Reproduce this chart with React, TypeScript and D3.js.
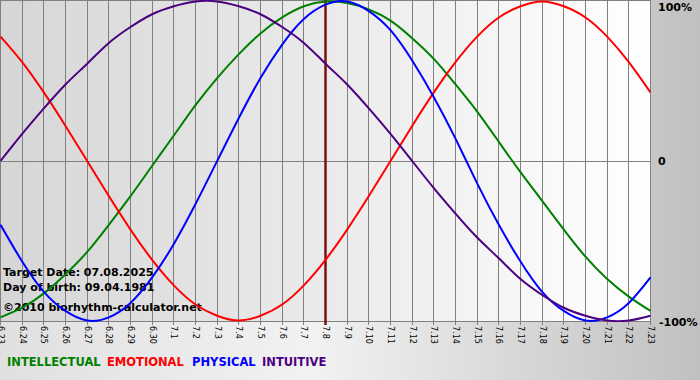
import React from "react";
import * as d3 from "d3";

const days = [
  "6.23", "6.24", "6.25", "6.26", "6.27", "6.28", "6.29", "6.30",
  "7.1", "7.2", "7.3", "7.4", "7.5", "7.6", "7.7", "7.8", "7.9", "7.10",
  "7.11", "7.12", "7.13", "7.14", "7.15", "7.16", "7.17", "7.18", "7.19",
  "7.20", "7.21", "7.22", "7.23",
];

const intellectual = [
  -0.98, -0.92, -0.83, -0.71, -0.57, -0.4, -0.22, -0.03, 0.16, 0.35, 0.52,
  0.67, 0.8, 0.9, 0.97, 1.0, 0.99, 0.95, 0.88, 0.77, 0.64, 0.48, 0.31, 0.12,
  -0.07, -0.25, -0.43, -0.6, -0.74, -0.85, -0.94,
];
const emotional = [
  0.78, 0.62, 0.43, 0.22, 0.0, -0.22, -0.43, -0.62, -0.78, -0.9, -0.97, -1.0,
  -0.97, -0.9, -0.78, -0.62, -0.43, -0.22, 0.0, 0.22, 0.43, 0.62, 0.78, 0.9,
  0.97, 1.0, 0.97, 0.9, 0.78, 0.62, 0.43,
];
const physical = [
  -0.4, -0.63, -0.82, -0.94, -1.0, -0.98, -0.89, -0.73, -0.52, -0.27, 0.0,
  0.27, 0.52, 0.73, 0.89, 0.98, 1.0, 0.94, 0.82, 0.63, 0.4, 0.14, -0.14, -0.4,
  -0.63, -0.82, -0.94, -1.0, -0.98, -0.89, -0.73,
];
const intuitive = [
  0.0, 0.17, 0.33, 0.48, 0.61, 0.74, 0.84, 0.92, 0.97, 1.0, 1.0, 0.97, 0.92,
  0.84, 0.74, 0.61, 0.48, 0.33, 0.17, 0.0, -0.17, -0.33, -0.48, -0.61, -0.74,
  -0.84, -0.92, -0.97, -1.0, -1.0, -0.97,
];

const targetIndex = 15;
const yTicks = [
  { v: 1, label: "100%" },
  { v: 0, label: "0" },
  { v: -1, label: "-100%" },
];
const series = [
  { name: "INTELLECTUAL", values: intellectual, color: "#008000" },
  { name: "EMOTIONAL", values: emotional, color: "#ff0000" },
  { name: "PHYSICAL", values: physical, color: "#0000ff" },
  { name: "INTUITIVE", values: intuitive, color: "#4b0082" },
];
const infoLines = [
  "Target Date: 07.08.2025",
  "Day of birth: 09.04.1981",
  "\u00a92010 biorhythm-calculator.net",
];

export default function App() {
  const W = 700;
  const H = 380;
  const plotRight = 650.5;
  const x = d3.scaleLinear().domain([0, days.length - 1]).range([0.5, plotRight]);
  const y = d3.scaleLinear().domain([-1, 1]).range([320.5, 1.5]);
  const axisY = 321;
  const line = d3
    .line<number>()
    .x((_, i) => x(i))
    .y((d) => y(d))
    .curve(d3.curveNatural);
  const font = "DejaVu Sans, Verdana, sans-serif";
  const legendX = [7, 107, 192, 262];

  return (
    <svg
      width={W}
      height={H}
      style={{ position: "fixed", left: 0, top: 0, display: "block" }}
      fontFamily={font}
    >
      <defs>
        <linearGradient id="outerBg" x1="0" x2="1" y1="0" y2="0">
          <stop offset="0" stopColor="#e0e0e0" />
          <stop offset="0.45" stopColor="#f2f2f2" />
          <stop offset="1" stopColor="#c0c0c0" />
        </linearGradient>
        <linearGradient id="plotBg" x1="0" x2="1" y1="0" y2="0">
          <stop offset="0" stopColor="#d6d6d6" />
          <stop offset="1" stopColor="#ffffff" />
        </linearGradient>
        <clipPath id="plotClip">
          <rect x={0} y={0} width={plotRight + 1} height={axisY + 1} />
        </clipPath>
      </defs>
      <rect x={0} y={0} width={W} height={H} fill="url(#outerBg)" />
      <rect x={0} y={0} width={plotRight} height={axisY} fill="url(#plotBg)" />
      {/* vertical grid */}
      {days.map((d, i) => {
        const px = Math.floor(x(i)) + 0.5;
        return (
          <g key={d}>
            <line x1={px} x2={px} y1={0} y2={axisY + 4} stroke="#808080" strokeWidth={1} />
            <text
              transform={`translate(${px - 3},${axisY + 5}) rotate(90)`}
              fontSize={8}
              fill="#000"
            >
              {d}
            </text>
          </g>
        );
      })}
      {/* horizontal lines */}
      <line x1={0} x2={plotRight} y1={0.5} y2={0.5} stroke="#808080" />
      <line
        x1={0}
        x2={plotRight}
        y1={Math.round(y(0)) + 0.5}
        y2={Math.round(y(0)) + 0.5}
        stroke="#808080"
      />
      <line x1={0} x2={plotRight} y1={axisY + 0.5} y2={axisY + 0.5} stroke="#808080" />
      {/* info */}
      {infoLines.map((t, i) => (
        <text key={t} x={3} y={[276, 291, 311][i]} fontSize={11} fontWeight="bold" fill="#000">
          {t}
        </text>
      ))}
      {/* target line */}
      <line
        x1={Math.floor(x(targetIndex)) + 0.5}
        x2={Math.floor(x(targetIndex)) + 0.5}
        y1={0}
        y2={axisY + 4}
        stroke="#7a1010"
        strokeWidth={2.5}
      />
      <g clipPath="url(#plotClip)">
        {series.map((s) => (
          <path key={s.name} d={line(s.values) || ""} fill="none" stroke={s.color} strokeWidth={2} />
        ))}
      </g>
      {/* y labels */}
      {yTicks.map((t) => (
        <text
          key={t.label}
          x={t.v < 0 ? 659 : 658}
          y={t.v === 1 ? 11 : t.v === 0 ? 165 : 326}
          fontSize={11}
          fontWeight="bold"
          fill="#000"
        >
          {t.label}
        </text>
      ))}
      {/* legend */}
      {series.map((s, i) => (
        <text key={s.name} x={legendX[i]} y={366} fontSize={11.5} fontWeight="bold" fill={s.color}>
          {s.name}
        </text>
      ))}
    </svg>
  );
}
